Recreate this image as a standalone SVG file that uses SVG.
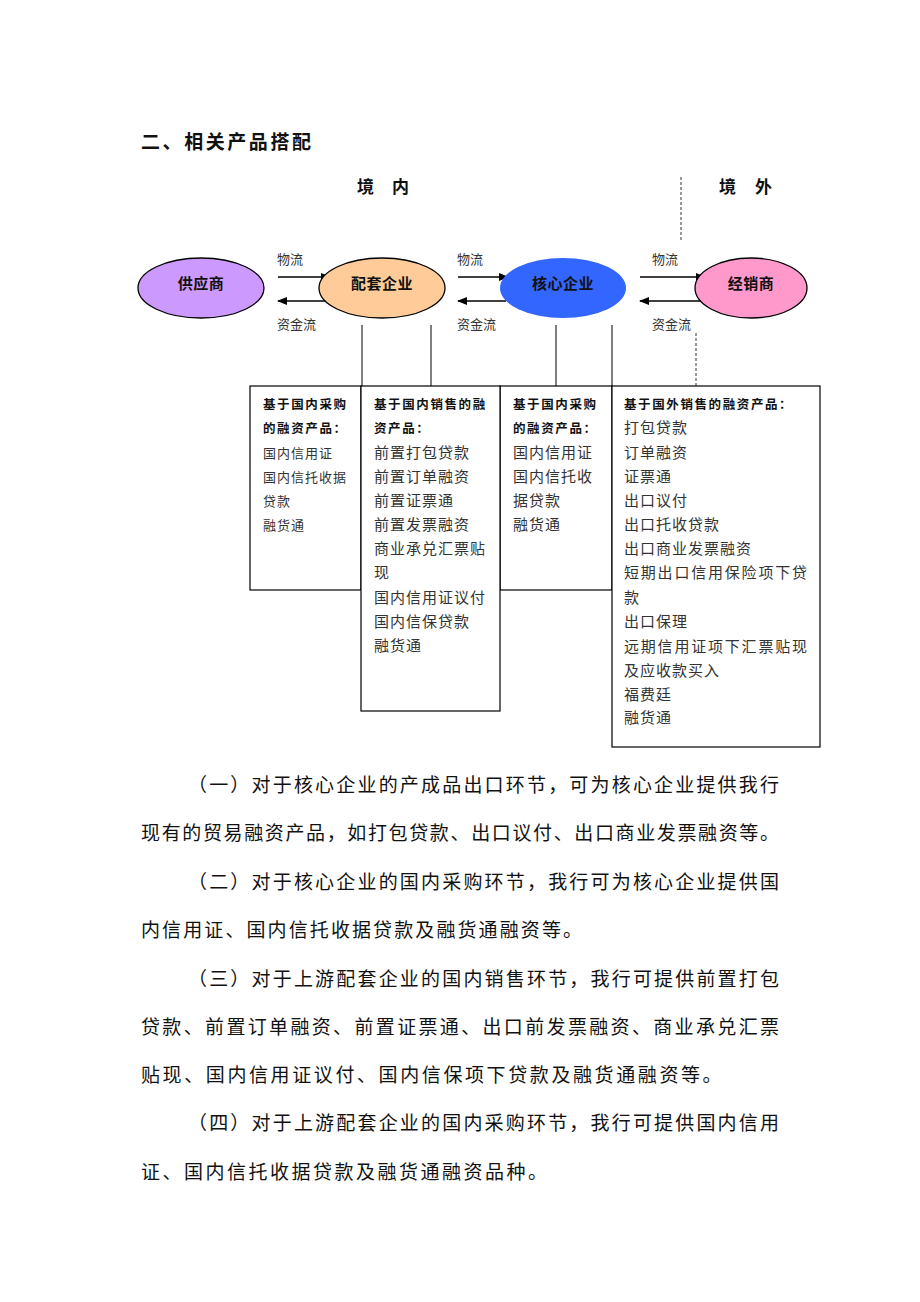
<svg xmlns="http://www.w3.org/2000/svg" width="920" height="1302" viewBox="0 0 920 1302">
<style>
  text { font-family: "Liberation Sans", "Noto Sans CJK SC", sans-serif; fill: #111; }
  .title { font-size: 19px; font-weight: bold; }
  .region { font-size: 17px; font-weight: bold; }
  .node { font-size: 15px; font-weight: bold; letter-spacing: 0.5px; }
  .flow { font-size: 13px; fill: #333; }
  .hdr { font-size: 12.5px; font-weight: bold; letter-spacing: 1.6px; }
  .sm { font-size: 13px; letter-spacing: 1px; fill: #333; }
  .item { font-size: 15px; letter-spacing: 1px; fill: #333; }
  .para { font-family: "Liberation Serif", "Noto Sans CJK SC", serif; font-size: 19px; fill: #111; }
  .box { fill: #fff; stroke: #000; stroke-width: 1.2; }
  .ln { stroke: #000; stroke-width: 1.5; fill: none; }
  .vl { stroke: #000; stroke-width: 1; fill: none; }
  .dash { stroke: #000; stroke-width: 0.8; stroke-dasharray: 3 2; fill: none; }
  .ell { stroke: #000; stroke-width: 1.3; }
</style>
<defs>
  <marker id="arr" markerWidth="10" markerHeight="8" refX="9" refY="4" orient="auto" markerUnits="userSpaceOnUse">
    <path d="M0,0 L10,4 L0,8 Z" fill="#000"/>
  </marker>
</defs>
<rect width="920" height="1302" fill="#fff"/>

<text class="title" x="141" y="149" textLength="170" lengthAdjust="spacing">二、相关产品搭配</text>
<text class="region" x="357 392" y="193">境内</text>
<text class="region" x="719 755" y="193">境外</text>

<g id="connectors">
  <line class="dash" x1="681" y1="177" x2="681" y2="240"/>
  <line class="dash" x1="696" y1="333" x2="696" y2="386"/>
  <line class="ln" x1="278" y1="277" x2="330" y2="277" marker-end="url(#arr)"/>
  <line class="ln" x1="330" y1="301" x2="278" y2="301" marker-end="url(#arr)"/>
  <line class="ln" x1="458" y1="277" x2="508" y2="277" marker-end="url(#arr)"/>
  <line class="ln" x1="506" y1="301" x2="458" y2="301" marker-end="url(#arr)"/>
  <line class="ln" x1="640" y1="277" x2="705" y2="277" marker-end="url(#arr)"/>
  <line class="ln" x1="702" y1="301" x2="640" y2="301" marker-end="url(#arr)"/>
  <line class="vl" x1="362" y1="325" x2="362" y2="386"/>
  <line class="vl" x1="431" y1="325" x2="431" y2="386"/>
  <line class="vl" x1="556" y1="325" x2="556" y2="386"/>
  <line class="vl" x1="612" y1="325" x2="612" y2="386"/>
  <text class="flow" x="277" y="264">物流</text>
  <text class="flow" x="277" y="329">资金流</text>
  <text class="flow" x="457" y="264">物流</text>
  <text class="flow" x="457" y="329">资金流</text>
  <text class="flow" x="652" y="264">物流</text>
  <text class="flow" x="652" y="329">资金流</text>
</g>

<g id="supplier">
  <ellipse class="ell" cx="201" cy="288" rx="63" ry="30" fill="#CC99FF"/>
  <text class="node" x="201" y="289" text-anchor="middle">供应商</text>
</g>
<g id="partner">
  <ellipse class="ell" cx="382" cy="288" rx="63" ry="30" fill="#FFCC99"/>
  <text class="node" x="382" y="289" text-anchor="middle">配套企业</text>
</g>
<g id="core">
  <ellipse cx="563" cy="288" rx="63" ry="30" fill="#3366FF"/>
  <text class="node" x="563" y="289" text-anchor="middle">核心企业</text>
</g>
<g id="dealer">
  <ellipse class="ell" cx="751" cy="288" rx="56" ry="30" fill="#FF99CC"/>
  <text class="node" x="751" y="289" text-anchor="middle">经销商</text>
</g>

<g id="box1">
  <rect class="box" x="250" y="386" width="111" height="204"/>
  <text class="hdr" x="263" y="409">基于国内采购</text>
  <text class="hdr" x="263" y="433">的融资产品：</text>
  <text class="sm" x="263" y="458">国内信用证</text>
  <text class="sm" x="263" y="482" letter-spacing="1.4">国内信托收据</text>
  <text class="sm" x="263" y="506">贷款</text>
  <text class="sm" x="263" y="530">融货通</text>
</g>
<g id="box3">
  <rect class="box" x="500" y="386" width="112" height="204"/>
  <text class="hdr" x="513" y="409">基于国内采购</text>
  <text class="hdr" x="513" y="433">的融资产品：</text>
  <text class="item" x="513" y="458">国内信用证</text>
  <text class="item" x="513" y="482" letter-spacing="2.2">国内信托收</text>
  <text class="item" x="513" y="506">据贷款</text>
  <text class="item" x="513" y="530">融货通</text>
</g>
<g id="box2">
  <rect class="box" x="361" y="386" width="139" height="325"/>
  <text class="hdr" x="374" y="409">基于国内销售的融</text>
  <text class="hdr" x="374" y="433">资产品：</text>
  <text class="item" x="374" y="458">前置打包贷款</text>
  <text class="item" x="374" y="482">前置订单融资</text>
  <text class="item" x="374" y="506">前置证票通</text>
  <text class="item" x="374" y="530">前置发票融资</text>
  <text class="item" x="374" y="554">商业承兑汇票贴</text>
  <text class="item" x="374" y="578">现</text>
  <text class="item" x="374" y="603">国内信用证议付</text>
  <text class="item" x="374" y="627">国内信保贷款</text>
  <text class="item" x="374" y="651">融货通</text>
</g>
<g id="box4">
  <rect class="box" x="612" y="386" width="208" height="361"/>
  <text class="hdr" x="624" y="409" letter-spacing="0.8">基于国外销售的融资产品：</text>
  <text class="item" x="624" y="433">打包贷款</text>
  <text class="item" x="624" y="458">订单融资</text>
  <text class="item" x="624" y="482">证票通</text>
  <text class="item" x="624" y="506">出口议付</text>
  <text class="item" x="624" y="530">出口托收贷款</text>
  <text class="item" x="624" y="554">出口商业发票融资</text>
  <text class="item" x="624" y="578" textLength="184" lengthAdjust="spacing">短期出口信用保险项下贷</text>
  <text class="item" x="624" y="603">款</text>
  <text class="item" x="624" y="627">出口保理</text>
  <text class="item" x="624" y="652" textLength="184" lengthAdjust="spacing">远期信用证项下汇票贴现</text>
  <text class="item" x="624" y="676">及应收款买入</text>
  <text class="item" x="624" y="700">福费廷</text>
  <text class="item" x="624" y="723">融货通</text>
</g>

<g id="paragraphs">
  <text class="para" x="188" y="792" textLength="591" lengthAdjust="spacing">（一）对于核心企业的产成品出口环节，可为核心企业提供我行</text>
  <text class="para" x="141" y="840" textLength="638" lengthAdjust="spacing">现有的贸易融资产品，如打包贷款、出口议付、出口商业发票融资等。</text>
  <text class="para" x="188" y="889" textLength="591" lengthAdjust="spacing">（二）对于核心企业的国内采购环节，我行可为核心企业提供国</text>
  <text class="para" x="141" y="937" letter-spacing="2.1">内信用证、国内信托收据贷款及融货通融资等。</text>
  <text class="para" x="188" y="986" textLength="591" lengthAdjust="spacing">（三）对于上游配套企业的国内销售环节，我行可提供前置打包</text>
  <text class="para" x="141" y="1034" textLength="638" lengthAdjust="spacing">贷款、前置订单融资、前置证票通、出口前发票融资、商业承兑汇票</text>
  <text class="para" x="141" y="1082" letter-spacing="2.6">贴现、国内信用证议付、国内信保项下贷款及融货通融资等。</text>
  <text class="para" x="188" y="1130" textLength="591" lengthAdjust="spacing">（四）对于上游配套企业的国内采购环节，我行可提供国内信用</text>
  <text class="para" x="141" y="1179" letter-spacing="2.5">证、国内信托收据贷款及融货通融资品种。</text>
</g>
</svg>
